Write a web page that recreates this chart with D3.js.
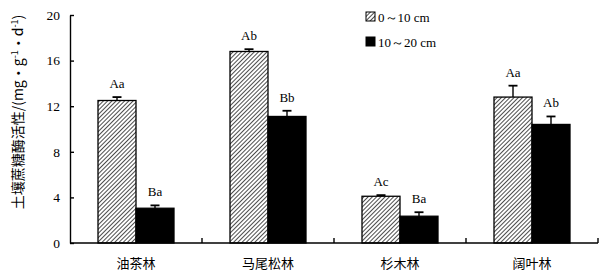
<!DOCTYPE html>
<html><head><meta charset="utf-8">
<script src="https://cdn.jsdelivr.net/npm/d3@7"></script>
<style>body{margin:0;background:#fff}</style>
</head><body>
<svg id="c" width="607" height="275"></svg>
<script>
const categories = ["油茶林", "马尾松林", "杉木林", "阔叶林"];
const seriesNames = ["0～10 cm", "10～20 cm"];
const valuesTop = [12.5, 16.8, 4.1, 12.8];
const errTop = [0.3, 0.2, 0.1, 1.0];
const labelsTop = ["Aa", "Ab", "Ac", "Aa"];
const valuesSub = [3.05, 11.1, 2.35, 10.4];
const errSub = [0.25, 0.5, 0.35, 0.7];
const labelsSub = ["Ba", "Bb", "Ba", "Ab"];
const yTicks = [0, 4, 8, 12, 16, 20];

const svg = d3.select("#c");
const defs = svg.append("defs");
const pat = defs.append("pattern").attr("id","hatch").attr("patternUnits","userSpaceOnUse")
  .attr("width",3).attr("height",3).attr("patternTransform","rotate(45)");
pat.append("rect").attr("width",3).attr("height",3).attr("fill","#fff");
pat.append("line").attr("x1",0).attr("y1",0).attr("x2",0).attr("y2",3).attr("stroke","#000").attr("stroke-width",1.4);

const x0 = 70, x1 = 598, y0 = 243, yTop = 15;
const x = d3.scaleBand().domain(categories).range([x0, x1]);
const y = d3.scaleLinear().domain([0, 20]).range([y0, yTop]);
const bw = 38;
const serif = "'Liberation Serif','Times New Roman',serif";

const series = [
  {vals: valuesTop, errs: errTop, labels: labelsTop, fill: "url(#hatch)", off: -bw},
  {vals: valuesSub, errs: errSub, labels: labelsSub, fill: "#000", off: 0}
];

series.forEach(s => {
  const g = svg.append("g");
  categories.forEach((c, i) => {
    const cx = x(c) + x.bandwidth()/2 + s.off;
    const v = s.vals[i], e = s.errs[i];
    g.append("line").attr("x1", cx + bw/2).attr("x2", cx + bw/2)
      .attr("y1", y(v)).attr("y2", y(v+e)).attr("stroke","#000").attr("stroke-width",1.4);
    g.append("line").attr("x1", cx + bw/2 - 4.5).attr("x2", cx + bw/2 + 4.5)
      .attr("y1", y(v+e)).attr("y2", y(v+e)).attr("stroke","#000").attr("stroke-width",1.8);
    g.append("rect").attr("x", cx).attr("y", y(v)).attr("width", bw).attr("height", y0 - y(v))
      .attr("fill", s.fill).attr("stroke","#000").attr("stroke-width",1.3);
    g.append("text").attr("x", cx + bw/2).attr("y", y(v+e) - 9)
      .attr("text-anchor","middle").attr("font-family", serif).attr("font-size", 13)
      .text(s.labels[i]);
  });
});

const ya = d3.axisLeft(y).tickValues(yTicks).tickSize(-4).tickPadding(10).tickSizeOuter(0);
const yg = svg.append("g").attr("transform", `translate(${x0},0)`).call(ya);
yg.selectAll("text").attr("font-family", serif).attr("font-size", 13.5).attr("fill","#000");
yg.select(".domain").attr("stroke-width",1.4);
yg.selectAll("line").attr("stroke-width",1.4);

const xa = d3.axisBottom(x).tickSize(0).tickPadding(16);
const xg = svg.append("g").attr("transform", `translate(0,${y0})`).call(xa);
xg.select(".domain").attr("d", `M${x0},0H${x1}`).attr("stroke-width",1.4);
xg.selectAll("text").attr("font-family","'Noto Sans CJK SC',sans-serif").attr("font-size",13).attr("fill","#000");
const seps = categories.map(c => x(c) + x.bandwidth());
svg.append("g").selectAll("line").data(seps).join("line")
  .attr("x1", d=>d).attr("x2", d=>d).attr("y1", y0).attr("y2", y0-5)
  .attr("stroke","#000").attr("stroke-width",1.4);

svg.append("text").attr("transform", "translate(23,112) rotate(-90)")
  .attr("text-anchor","middle").attr("font-size",14)
  .attr("font-family","'Noto Sans CJK SC',sans-serif")
  .html("土壤蔗糖酶活性/(mg・g<tspan dy='-5' font-size='9'>-1</tspan><tspan dy='5'>・d</tspan><tspan dy='-5' font-size='9'>-1</tspan><tspan dy='5'>)</tspan>");

const lg = svg.append("g");
const legFills = ["url(#hatch)", "#000"];
seriesNames.forEach((n, i) => {
  const ly = 17 + i*25;
  lg.append("rect").attr("x", 366).attr("y", ly-5).attr("width", 9).attr("height", 9)
    .attr("fill", legFills[i]).attr("stroke","#000").attr("stroke-width",1);
  lg.append("text").attr("x", 378).attr("y", ly+4.5).attr("font-family", serif)
    .attr("font-size", 13).text(n);
});
</script>
</body></html>
